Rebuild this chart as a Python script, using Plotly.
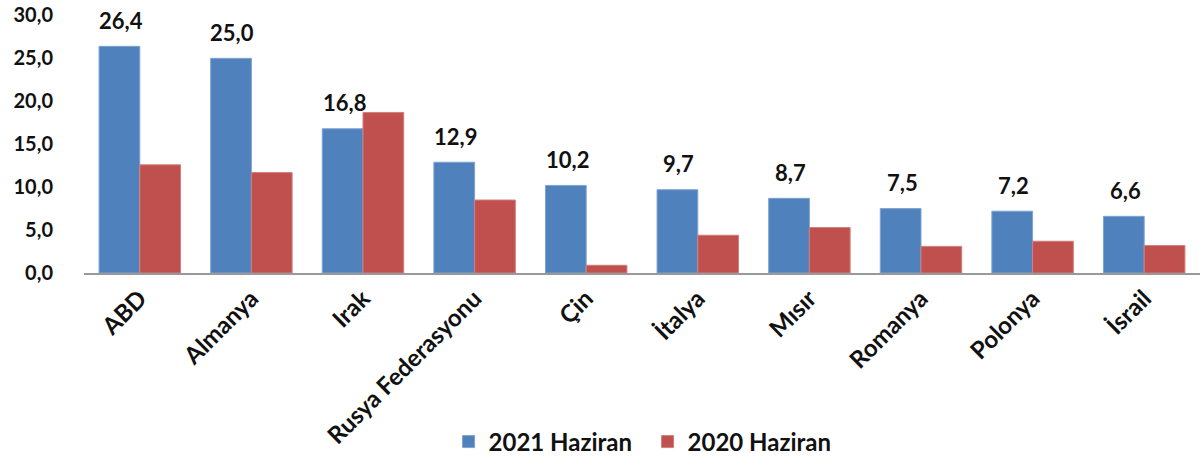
import plotly.graph_objects as go

categories = ["ABD", "Almanya", "Irak", "Rusya Federasyonu", "Çin", "İtalya", "Mısır", "Romanya", "Polonya", "İsrail"]
values_2021 = [26.4, 25.0, 16.8, 12.9, 10.2, 9.7, 8.7, 7.5, 7.2, 6.6]
values_2020 = [12.6, 11.7, 18.7, 8.5, 0.9, 4.4, 5.3, 3.1, 3.7, 3.2]
series_names = ["2021 Haziran", "2020 Haziran"]
y_ticks = [0, 5, 10, 15, 20, 25, 30]

FONT = "Lato, 'Open Sans', sans-serif"

fig = go.Figure()
fig.add_trace(go.Bar(x=categories, y=values_2021, name=series_names[0],
                     marker=dict(color="#4F81BD", line=dict(color="#7FA3D0", width=1))))
fig.add_trace(go.Bar(x=categories, y=values_2020, name=series_names[1],
                     marker=dict(color="#C0504D", line=dict(color="#D07F7D", width=1))))

for c, v in zip(categories, values_2021):
    fig.add_annotation(x=c, y=v, xref="x", yref="y", text=f"{v:.1f}".replace(".", ","),
                       showarrow=False, xshift=-19, yshift=26, yanchor="middle",
                       font=dict(family=FONT, size=22, color="#111111", weight="bold"))

fig.update_layout(
    width=1202, height=466,
    margin=dict(l=84, r=2, t=11, b=193),
    barmode="group", bargap=0.27, bargroupgap=0,
    plot_bgcolor="white", paper_bgcolor="white",
    font=dict(family=FONT, size=18, color="#111111"),
    showlegend=True,
    legend=dict(orientation="h", x=0.505, xanchor="center", y=-0.655, yanchor="middle",
                font=dict(family=FONT, size=24, color="#111111", weight="bold"),
                itemwidth=30, traceorder="normal", entrywidth=154),
)
fig.update_xaxes(showline=True, linecolor="#999999", linewidth=2, tickangle=-45,
                 ticks="", tickfont=dict(family=FONT, size=24, color="#111111", weight="bold"))
fig.update_yaxes(range=[0, 30.05], tickvals=y_ticks,
                 ticktext=[f"{t:.1f}".replace(".", ",") for t in y_ticks],
                 showgrid=False, zeroline=False, showline=False, ticks="",
                 ticklabelstandoff=30, ticklabeloverflow="allow",
                 tickfont=dict(family=FONT, size=20, color="#111111", weight="bold"))

# remove the default 8px body margin so the figure sits at the page's top-left corner
fig.write_html("out.html", config={"displayModeBar": False},
               post_script="document.body.style.margin='0';")
